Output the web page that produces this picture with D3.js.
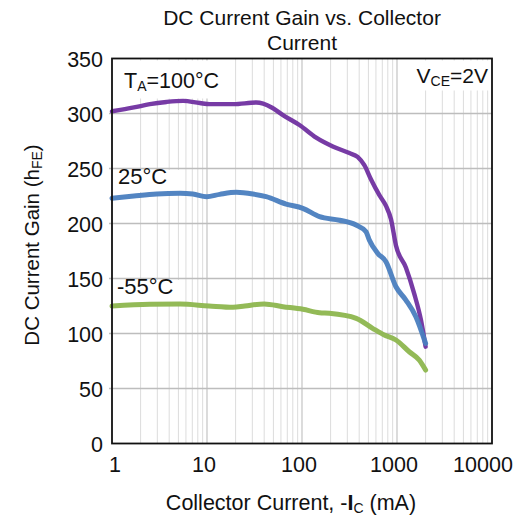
<!DOCTYPE html>
<html><head><meta charset="utf-8">
<script src="https://cdn.jsdelivr.net/npm/d3@7"></script>
<style>body{margin:0;background:#fff}svg{display:block}text{font-family:"Liberation Sans",Arial,sans-serif;fill:#111}</style>
</head><body><svg id="c" width="532" height="522"></svg>
<script>
// Data (collector current mA, hFE)
const current100 = [1,1.7,2.5,3.75,5.6,8.4,10.7,19,33,39,49,63,94,141,211,315,385,453,533,650,766,864,975,1240,1520,1790,2000];
const gain100    = [302,305.5,308.5,310.5,311.5,309.5,308.5,308.5,310,309,305,298.5,289.5,278,270,264,260.5,253,240,226,216,204,180,160,136,112,88];
const current25  = [1,1.7,2.95,5.2,7.1,9.9,13.6,20.4,30.4,42,68,102,153,248,371,472,511,625,765,975,1240,1580,2000];
const gain25     = [223,225,226.8,227.4,226.8,224.4,226.5,228.3,226.8,224.4,217.7,213.8,206.2,203,198.6,192.5,185,173,165.3,142.5,130.4,115.3,91];
const currentM55 = [1,2.5,5.2,10.5,18.8,25,40,63,102,153,194,372,553,735,975,1345,1712,2000];
const gainM55    = [125,126.5,126.8,125,123.8,125,126.8,124.4,122,118.9,118.4,113.8,104.7,98.6,94.1,83.4,75.9,66.8];
const xTicks = [1,10,100,1000,10000];
const yTicks = [0,50,100,150,200,250,300,350];
const seriesNames = ["100°C","25°C","-55°C"];
const seriesColors = ["#7030a0","#4a7ebf","#8db64e"];

const svg = d3.select("#c");
const L=112, R=492, T=58.5, B=443.5;
const x = d3.scaleLog().domain([1,10000]).range([L,R]);
const y = d3.scaleLinear().domain([0,350]).range([B,T]);

// vertical grid
const minor=[];
for (let d=1; d<10000; d*=10) for (let k=2;k<=9;k++) minor.push(d*k);
svg.append("g").selectAll("line").data(minor).join("line")
  .attr("x1",d=>x(d)).attr("x2",d=>x(d)).attr("y1",T).attr("y2",B)
  .attr("stroke","#dcdcdc").attr("stroke-width",1);
svg.append("g").selectAll("line").data([10,100,1000]).join("line")
  .attr("x1",d=>x(d)).attr("x2",d=>x(d)).attr("y1",T).attr("y2",B)
  .attr("stroke","#c4c4c4").attr("stroke-width",1.2);
// horizontal grid
svg.append("g").selectAll("line").data(yTicks.slice(1,-1)).join("line")
  .attr("x1",L-3).attr("x2",R).attr("y1",d=>y(d)).attr("y2",d=>y(d))
  .attr("stroke","#bdbdbd").attr("stroke-width",1.6);

// label boxes
function box(x0,y0,w,h){svg.append("rect").attr("x",x0).attr("y",y0).attr("width",w).attr("height",h).attr("fill","#fff");}
box(L+1,T+2,112,38);
box(L+1,y(250)+1.5,70,22);
box(L+1,y(150)+1.5,72,22);
box(408,T+2,R-409,30);

// curves
const line = d3.line().x(d=>x(d[0])).y(d=>y(d[1])).curve(d3.curveMonotoneX);
const data = [d3.zip(current100,gain100), d3.zip(current25,gain25), d3.zip(currentM55,gainM55)];
data.forEach((s,i)=>{
  svg.append("path").datum(s).attr("d",line).attr("fill","none")
    .attr("stroke",seriesColors[i]).attr("stroke-width",i===0?4.4:5)
    .attr("stroke-linejoin","round").attr("stroke-linecap","round").attr("opacity",0.95);
});

// frame
svg.append("rect").attr("x",L).attr("y",T).attr("width",R-L).attr("height",B-T)
  .attr("fill","none").attr("stroke","#111").attr("stroke-width",1.8);

// axes labels
svg.append("g").selectAll("text").data(yTicks).join("text")
  .attr("x",103).attr("y",d=>y(d)+8).attr("text-anchor","end").attr("font-size",21.5).text(d=>d);
svg.append("g").selectAll("text").data(xTicks).join("text")
  .attr("x",(d,i)=>x(d)+(i===xTicks.length-1?-9:(i===0?3:-3))).attr("y",472).attr("text-anchor","middle").attr("font-size",21.5).text(d=>d);

// titles
svg.append("text").attr("x",302).attr("y",25).attr("text-anchor","middle").attr("font-size",21).text("DC Current Gain vs. Collector");
svg.append("text").attr("x",302).attr("y",50).attr("text-anchor","middle").attr("font-size",21).text("Current");

const xt = svg.append("text").attr("x",291).attr("y",510).attr("text-anchor","middle").attr("font-size",21.5);
xt.append("tspan").text("Collector Current, -");
xt.append("tspan").attr("font-weight","bold").text("I");
xt.append("tspan").attr("font-size",14).attr("dy",3).text("C");
xt.append("tspan").attr("dy",-3).text(" (mA)");

const yt = svg.append("text").attr("transform","translate(39,245) rotate(-90)").attr("text-anchor","middle").attr("font-size",20.5);
yt.append("tspan").text("DC Current Gain (h");
yt.append("tspan").attr("font-size",14).attr("dy",3).text("FE");
yt.append("tspan").attr("dy",-3).text(")");

// series labels
const t1 = svg.append("text").attr("x",124).attr("y",88).attr("font-size",21.5);
t1.append("tspan").text("T");
t1.append("tspan").attr("font-size",14).attr("dy",3).text("A");
t1.append("tspan").attr("dy",-3).text("=" + seriesNames[0]);
svg.append("text").attr("x",118).attr("y",184).attr("font-size",22).text(seriesNames[1]);
svg.append("text").attr("x",117).attr("y",294).attr("font-size",22).text(seriesNames[2]);
const t2 = svg.append("text").attr("x",488).attr("y",83).attr("text-anchor","end").attr("font-size",21);
t2.append("tspan").text("V");
t2.append("tspan").attr("font-size",14).attr("dy",3).text("CE");
t2.append("tspan").attr("dy",-3).text("=2V");
</script></body></html>
